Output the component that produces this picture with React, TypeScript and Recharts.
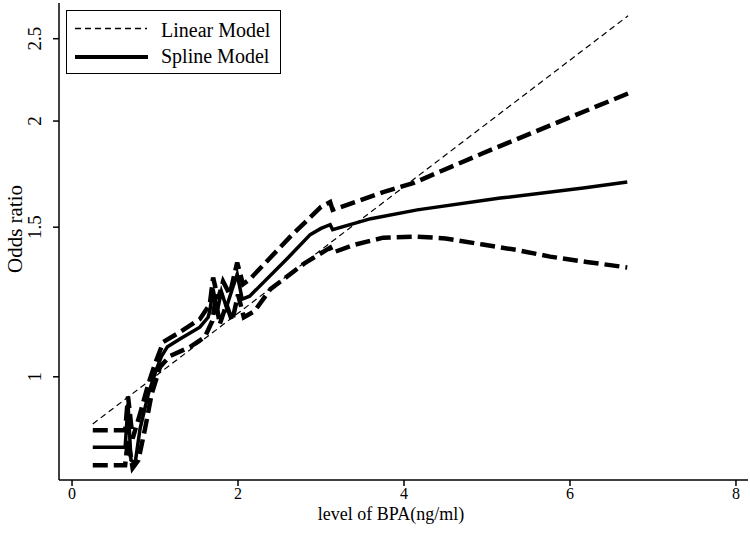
import React from 'react';
import { LineChart, Line, XAxis, YAxis, Label } from 'recharts';

const xTicks = [0, 2, 4, 6, 8];
const yTicks = [1, 1.5, 2, 2.5];

const linearX = [0.25, 6.7];
const linearY = [0.88, 2.66];

const splineX = [0.25, 0.64, 0.675, 0.71, 0.76, 0.82, 0.92, 1.01, 1.08, 1.15, 1.3, 1.54, 1.64, 1.66, 1.7, 1.75, 1.8, 1.86, 1.93, 1.99, 2.05, 2.14, 2.6, 2.87, 3.0, 3.11, 3.14, 3.6, 4.16, 5.16, 6.16, 6.69];
const splineY = [0.826, 0.826, 0.93, 0.798, 0.791, 0.869, 0.955, 1.016, 1.058, 1.085, 1.108, 1.144, 1.175, 1.195, 1.268, 1.195, 1.26, 1.207, 1.268, 1.32, 1.234, 1.244, 1.38, 1.47, 1.495, 1.51, 1.49, 1.535, 1.572, 1.623, 1.668, 1.695];

const upperX = [0.25, 0.64, 0.675, 0.73, 0.82, 0.92, 1.0, 1.1, 1.3, 1.54, 1.66, 1.7, 1.76, 1.82, 1.9, 1.99, 2.06, 2.14, 2.63, 3.0, 3.11, 3.14, 3.75, 4.11, 4.95, 5.88, 6.7];
const upperY = [0.865, 0.865, 0.948, 0.846, 0.905, 0.981, 1.036, 1.099, 1.129, 1.169, 1.217, 1.309, 1.234, 1.295, 1.25, 1.363, 1.285, 1.302, 1.462, 1.585, 1.606, 1.572, 1.65, 1.69, 1.833, 1.998, 2.155];

const lowerX = [0.25, 0.64, 0.675, 0.73, 0.8, 0.88, 0.96, 1.06, 1.18, 1.42, 1.6, 1.69, 1.73, 1.78, 1.86, 1.93, 2.0, 2.07, 2.2, 2.39, 2.8, 3.11, 3.14, 3.4, 3.75, 4.16, 4.5, 4.95, 5.36, 5.76, 6.2, 6.69];
const lowerY = [0.787, 0.787, 0.846, 0.781, 0.798, 0.869, 0.955, 1.027, 1.058, 1.084, 1.114, 1.163, 1.234, 1.153, 1.217, 1.163, 1.25, 1.175, 1.195, 1.268, 1.36, 1.419, 1.4, 1.43, 1.458, 1.462, 1.455, 1.431, 1.41, 1.385, 1.365, 1.345];

const rows = (xs: number[], ys: number[]) => xs.map((x, i) => ({ x, y: ys[i] }));

const linearData = rows(linearX, linearY);
const splineData = rows(splineX, splineY);
const upperData = rows(upperX, upperY);
const lowerData = rows(lowerX, lowerY);

const FONT = '"Liberation Serif", "Times New Roman", serif';

const XTick = (props: any) => {
  const { x, payload } = props;
  return (
    <text x={x} y={499} textAnchor="middle" fontFamily={FONT} fontSize={16} fill="#000">
      {payload.value}
    </text>
  );
};

const YTick = (props: any) => {
  const { y, payload } = props;
  return (
    <text x={41} y={y} transform={`rotate(-90, 41, ${y})`} textAnchor="middle" fontFamily={FONT} fontSize={19} fill="#000">
      {payload.value}
    </text>
  );
};

export default function App() {
  return (
    <div style={{ position: 'absolute', left: 0, top: 0, width: 750, height: 539, background: '#fff' }}>
      <LineChart width={750} height={539} margin={{ top: 3, right: 2, left: 0, bottom: 0 }}>
        <XAxis
          type="number"
          dataKey="x"
          domain={[-0.157, 8.145]}
          allowDataOverflow
          ticks={xTicks}
          tick={<XTick />}
          tickSize={6}
          height={59}
          stroke="#000"
          strokeWidth={1.5}
          tickLine={{ stroke: '#000', strokeWidth: 1.5 }}
        >
          <Label
            content={() => (
              <text x={391} y={520} textAnchor="middle" fontFamily={FONT} fontSize={18} fill="#000">
                level of BPA(ng/ml)
              </text>
            )}
          />
        </XAxis>
        <YAxis
          type="number"
          dataKey="y"
          scale="log"
          domain={[0.756, 2.754]}
          allowDataOverflow
          ticks={yTicks}
          tick={<YTick />}
          tickSize={6}
          width={59}
          stroke="#000"
          strokeWidth={1.5}
          tickLine={{ stroke: '#000', strokeWidth: 1.5 }}
        >
          <Label
            content={() => (
              <text x={22} y={229} transform="rotate(-90, 22, 229)" textAnchor="middle" fontFamily={FONT} fontSize={21} fill="#000">
                Odds ratio
              </text>
            )}
          />
        </YAxis>
        <Line data={linearData} dataKey="y" type="linear" stroke="#000" strokeWidth={1.2} strokeDasharray="6 4" dot={false} isAnimationActive={false} />
        <Line data={upperData} dataKey="y" type="linear" stroke="#000" strokeWidth={4.5} strokeDasharray="15 6" dot={false} isAnimationActive={false} />
        <Line data={lowerData} dataKey="y" type="linear" stroke="#000" strokeWidth={4.5} strokeDasharray="15 6" dot={false} isAnimationActive={false} />
        <Line data={splineData} dataKey="y" type="linear" stroke="#000" strokeWidth={3.5} dot={false} isAnimationActive={false} />
      </LineChart>
      <div
        style={{
          position: 'absolute',
          left: 66,
          top: 10,
          width: 215,
          height: 64,
          boxSizing: 'border-box',
          border: '1.5px solid #000',
          background: '#fff',
        }}
      >
        <svg width={212} height={61} style={{ position: 'absolute', left: 0, top: 0 }}>
          <line x1={8} y1={17.5} x2={80} y2={17.5} stroke="#000" strokeWidth={1.5} strokeDasharray="6 4" />
          <line x1={8} y1={46} x2={81} y2={46} stroke="#000" strokeWidth={4} />
          <text x={94} y={26} fontFamily={FONT} fontSize={20} fill="#000">Linear Model</text>
          <text x={94} y={52} fontFamily={FONT} fontSize={20} fill="#000">Spline Model</text>
        </svg>
      </div>
    </div>
  );
}
